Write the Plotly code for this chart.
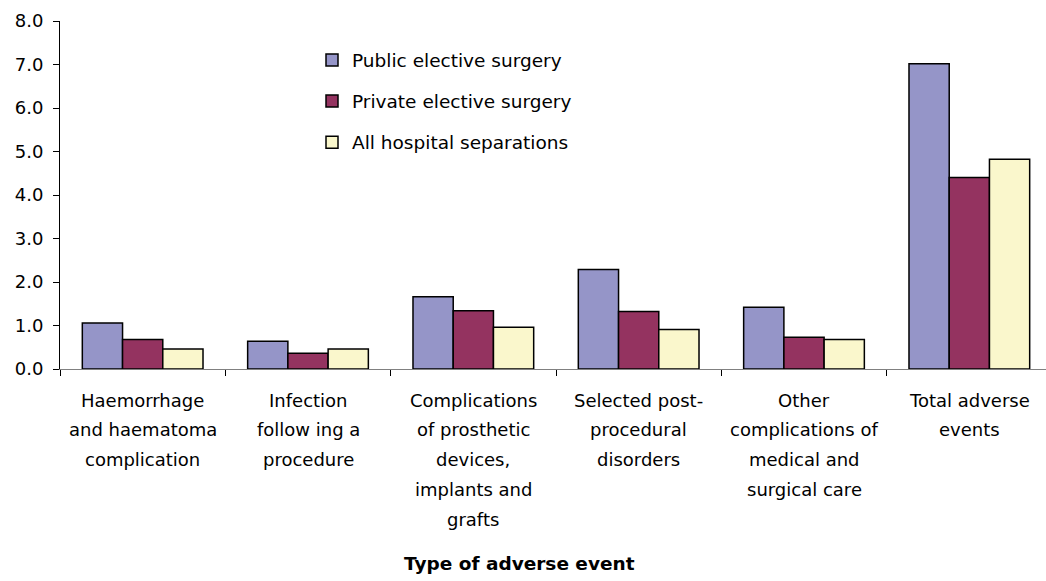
import plotly.graph_objects as go

categories = [
    "Haemorrhage<br>and haematoma<br>complication",
    "Infection<br>follow ing a<br>procedure",
    "Complications<br>of prosthetic<br>devices,<br>implants and<br>grafts",
    "Selected post-<br>procedural<br>disorders",
    "Other<br>complications of<br>medical and<br>surgical care",
    "Total adverse<br>events",
]
cat_keys = ["c0", "c1", "c2", "c3", "c4", "c5"]
public_elective = [1.06, 0.64, 1.66, 2.29, 1.42, 7.02]
private_elective = [0.68, 0.36, 1.34, 1.32, 0.73, 4.40]
all_separations = [0.46, 0.46, 0.96, 0.91, 0.68, 4.82]
series_names = ["Public elective surgery", "Private elective surgery", "All hospital separations"]
series_colors = ["#9595C8", "#943360", "#FAF7CC"]
y_ticks = [0, 1, 2, 3, 4, 5, 6, 7, 8]
x_title = "Type of adverse event"

FONT = "DejaVu Sans"

fig = go.Figure()
for i, (name, vals, col) in enumerate(zip(series_names,
                                          [public_elective, private_elective, all_separations],
                                          series_colors)):
    fig.add_trace(go.Bar(
        x=cat_keys, y=vals, name=name, legendgroup=f"g{i}",
        marker=dict(color=col, line=dict(color="black", width=1.5)),
    ))

annotations = []
for key, label in zip(cat_keys, categories):
    for j, line in enumerate(label.split("<br>")):
        annotations.append(dict(
            x=key, y=0, xref="x", yref="y", text=line, showarrow=False,
            xanchor="center", yanchor="middle", yshift=-31 - j * 29.8,
            font=dict(family=FONT, size=18, color="black"),
        ))
annotations.append(dict(
    x=(519 - 60) / 986, y=0, xref="paper", yref="y", text=f"<b>{x_title}</b>",
    showarrow=False, xanchor="center", yanchor="middle", yshift=-194,
    font=dict(family=FONT, size=18.5, color="black"),
))

fig.update_layout(
    width=1046, height=581,
    margin=dict(l=60, r=0, t=21, b=212, pad=0),
    paper_bgcolor="white", plot_bgcolor="white",
    barmode="group", bargap=0.27, bargroupgap=0,
    font=dict(family=FONT, color="black"),
    showlegend=True,
    legend=dict(
        x=(312 - 60) / 986, y=1 - (41.5 - 21) / 348, xanchor="left", yanchor="top",
        bgcolor="rgba(0,0,0,0)", tracegroupgap=14,
        font=dict(family=FONT, size=18.5, color="black"),
    ),
    xaxis=dict(
        type="category", range=[-0.5, 5.4637], showticklabels=False,
        showline=True, linecolor="#808080", linewidth=1,
        ticks="outside", tickson="boundaries", ticklen=6, tickcolor="black", tickwidth=1,
        showgrid=False, zeroline=False,
    ),
    yaxis=dict(
        range=[0, 8], tickvals=y_ticks, tickformat=".1f",
        showline=True, linecolor="black", linewidth=1,
        ticks="outside", ticklen=6, tickcolor="black", tickwidth=1,
        ticklabelstandoff=6,
        tickfont=dict(family=FONT, size=18, color="black"),
        showgrid=False, zeroline=False,
    ),
    annotations=annotations,
)

fig.write_html("out.html", config={"displayModeBar": False},
               post_script="document.body.style.margin='0px';")
